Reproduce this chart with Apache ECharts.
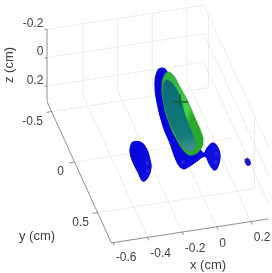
<!DOCTYPE html>
<html><head><meta charset="utf-8">
<style>html,body{margin:0;padding:0;background:#fff}#c{width:272px;height:273px;filter:blur(0.3px)}</style>
<script src="https://cdn.jsdelivr.net/npm/echarts@6/dist/echarts.min.js"></script>
</head><body><div id="c"></div>
<script>
// Axis ranges and ticks (cm)
const xRange = [-0.61, 0.3];
const yRange = [-0.6, 0.8];
const zRange = [-0.2, 0.31];
const xTicks = [-0.6, -0.4, -0.2, 0, 0.2];
const yTicks = [-0.5, 0, 0.5];
const zTicks = [-0.2, 0, 0.2];
const xTickLabels = ['-0.6', '-0.4', '-0.2', '0', '0.2'];
const yTickLabels = ['-0.5', '0', '0.5'];
const zTickLabels = ['-0.2', '0', '0.2'];

// Surface silhouettes, as [x, y] in cm, at z = 0
const blueBody = [[-0.0125,-0.3407],[0.0048,-0.2967],[-0.021,-0.0261],[-0.0138,0.2727],[0,0.5041],[0.0419,0.4556],[0.0788,0.4257],[0.0935,0.479],[0.0871,0.5466],[0.062,0.6193],[0.023,0.6785],[0.0082,0.6251],[0.0021,0.5393],[-0.0523,0.5697],[-0.1159,0.6124],[-0.1494,0.6185],[-0.1632,0.5505],[-0.1543,0.3648],[-0.1493,0.1878],[-0.1235,-0.0331],[-0.0923,-0.1934],[-0.0494,-0.3108]];
const blueLeft = [[-0.3523,0.3031],[-0.3143,0.313],[-0.2966,0.377],[-0.3045,0.4938],[-0.3189,0.5693],[-0.3574,0.6483],[-0.3943,0.6782],[-0.3992,0.5878],[-0.4017,0.4882],[-0.3932,0.3914],[-0.3705,0.328]];
const blueTiny = [[0.2154,0.6199],[0.2302,0.6187],[0.2349,0.6448],[0.2302,0.6732],[0.2129,0.6835],[0.2058,0.6668],[0.2078,0.6377]];
const greenShell = [[0.0102,-0.2952],[0.0299,-0.2604],[0.0381,-0.1394],[0.0441,-0.0091],[0.0429,0.1688],[0.0409,0.3068],[0.0296,0.3931],[-0.0089,0.4721],[-0.0646,0.507],[-0.0922,0.48],[-0.1089,0.3469],[-0.1083,0.1491],[-0.086,-0.0431],[-0.0544,-0.1834],[-0.0214,-0.2639]];
const tealCore = [[-0.0096,-0.2212],[0.0076,-0.1771],[0.0159,-0.0561],[-0.0012,0.1276],[-0.0078,0.2941],[-0.0161,0.4009],[-0.039,0.4543],[-0.0656,0.4671],[-0.0936,0.4202],[-0.1075,0.2482],[-0.1016,0.0913],[-0.0811,-0.0617],[-0.054,-0.1635],[-0.0284,-0.2162]];
const crossA = [[-0.0371,-0.0156],[0.0445,0.0108]];
const crossB = [[0.0209,-0.0746],[-0.0085,0.0464]];
const blueGlints = [[-0.3282,0.5173],[-0.3426,0.5927],[-0.1307,0.559],[0.0679,0.5318],[0.0481,0.6058]];

// View: orthographic projection, axis vectors per cm
const VIEW = {o:[47,101.5], ex:[172.5,-26.4], ey:[46,101], ez:[0,141.5]};
function project(x,y,z){
  const u=x-xRange[0], v=y-yRange[0], w=z-zRange[1];
  return [VIEW.o[0]+u*VIEW.ex[0]+v*VIEW.ey[0]+w*VIEW.ez[0],
          VIEW.o[1]+u*VIEW.ex[1]+v*VIEW.ey[1]+w*VIEW.ez[1]];
}
const at0 = p => project(p[0],p[1],0);

const [x0,x1]=xRange,[y0,y1]=yRange,[z0,z1]=zRange;
const gridSegs=[];
xTicks.slice(1).forEach(t=>{gridSegs.push([[t,y0,z1],[t,y0,z0]]);gridSegs.push([[t,y0,z1],[t,y1,z1]]);});
yTicks.forEach(t=>{gridSegs.push([[x0,t,z1],[x1,t,z1]]);if(t!==0)gridSegs.push([[x1,t,z1],[x1,t,z0]]);});
zTicks.forEach(t=>{gridSegs.push([[x0,y0,t],[x1,y0,t]]);gridSegs.push([[x1,y0,t],[x1,y1,t]]);});
const axisSegs=[[[x0,y0,z0],[x0,y0,z1]],[[x0,y0,z1],[x0,y1,z1]],[[x0,y1,z1],[x1,y1,z1]]];
xTicks.forEach(t=>axisSegs.push([[t,y1,z1],[t,y1+0.03,z1]]));
yTicks.forEach(t=>axisSegs.push([[x0,t,z1],[x0-0.03,t,z1]]));
zTicks.forEach(t=>axisSegs.push([[x0,y0,t],[x0-0.015,y0,t]]));

const segSeries=(name,segs,color,width)=>({
  type:'custom',name,coordinateSystem:'cartesian2d',silent:true,clip:false,
  data:segs.map((s,i)=>[i]),
  renderItem(p,api){
    const s=segs[api.value(0)];
    const a=api.coord(project(...s[0])),b=api.coord(project(...s[1]));
    return {type:'line',shape:{x1:a[0],y1:a[1],x2:b[0],y2:b[1]},style:{stroke:color,lineWidth:width}};
  }
});
const polySeries=(name,pts,fill,stroke,lw)=>({
  type:'custom',name,coordinateSystem:'cartesian2d',silent:true,clip:false,
  data:[[0]],
  renderItem(p,api){
    return {type:'polygon',shape:{points:pts.map(q=>api.coord(at0(q))),smooth:0.5},
      style:{fill,stroke:stroke||null,lineWidth:lw||0,lineJoin:'round'}};
  }
});
const textSeries=(name,items)=>({
  type:'custom',name,coordinateSystem:'cartesian2d',silent:true,clip:false,
  data:items.map((s,i)=>[i]),
  renderItem(p,api){
    const it=items[api.value(0)];
    const c=api.coord(it.pos);
    return {type:'text',x:c[0],y:c[1],rotation:it.rot||0,
      style:{text:it.text,x:0,y:0,align:'center',verticalAlign:'middle',fill:'#404040',
        font:it.size+'px "Liberation Sans", Arial, sans-serif'}};
  }
});

const xOff=[[13,15.5],[13,16.5],[13,17],[6,16.5],[11,16]];
const yOff=[[-19,10],[-14,10],[-17,10]];
const zOff=[[-14,-6],[-7,-5.5],[-12,-5.5]];
const labels=[];
xTicks.forEach((t,i)=>{const p=project(t,y1,z1);labels.push({text:xTickLabels[i],size:12,pos:[p[0]+xOff[i][0],p[1]+xOff[i][1]]});});
yTicks.forEach((t,i)=>{const p=project(x0,t,z1);labels.push({text:yTickLabels[i],size:12,pos:[p[0]+yOff[i][0],p[1]+yOff[i][1]]});});
zTicks.forEach((t,i)=>{const p=project(x0,y0,t);labels.push({text:zTickLabels[i],size:12,pos:[p[0]+zOff[i][0],p[1]+zOff[i][1]]});});
labels.push({text:'x (cm)',size:13,pos:[208,265]});
labels.push({text:'y (cm)',size:13,pos:[37,236]});
labels.push({text:'z (cm)',size:13,pos:[9,65],rot:Math.PI/2});

const blueFill={type:'linear',x:0,y:0,x2:1,y2:0,colorStops:[{offset:0,color:'#0404d4'},{offset:0.6,color:'#0a0ae0'},{offset:1,color:'#1414dc'}]};
const greenFill={type:'linear',x:0,y:0,x2:1,y2:0.2,colorStops:[{offset:0,color:'#2aa844'},{offset:0.55,color:'#36c23c'},{offset:0.85,color:'#44d644'},{offset:1,color:'#2aa82e'}]};
const tealFill={type:'linear',x:0,y:0,x2:0.3,y2:1,colorStops:[{offset:0,color:'#0c6a78'},{offset:0.8,color:'#127c78'},{offset:1,color:'#3f8f90'}]};

const option={
  animation:false,
  backgroundColor:'#fff',
  grid:{left:0,right:0,top:0,bottom:0},
  xAxis:{type:'value',min:0,max:272,show:false},
  yAxis:{type:'value',min:0,max:273,inverse:true,show:false},
  series:[
    segSeries('grid',gridSegs,'#e8e8e8',0.8),
    segSeries('axes',axisSegs,'#606060',0.7),
    polySeries('blue body',blueBody,blueFill,'#0808d8',1.2),
    polySeries('blue left',blueLeft,blueFill,'#0808d8',1.2),
    polySeries('blue tiny',blueTiny,'#1818c8',"#1818c8",0.8),
    {type:'scatter',name:'glints',silent:true,symbolSize:4,
     itemStyle:{color:'#3a3ae6',opacity:0.5},data:blueGlints.map(at0)},
    polySeries('green shell',greenShell,greenFill,'#2b9a34',0.8),
    polySeries('teal core',tealCore,tealFill),
    segSeries('cross',[crossA,crossB].map(s=>[[s[0][0],s[0][1],0],[s[1][0],s[1][1],0]]),'#14602a',1.4),
    textSeries('labels',labels)
  ]
};
echarts.init(document.getElementById('c'),null,{renderer:'canvas'}).setOption(option);
</script></body></html>
